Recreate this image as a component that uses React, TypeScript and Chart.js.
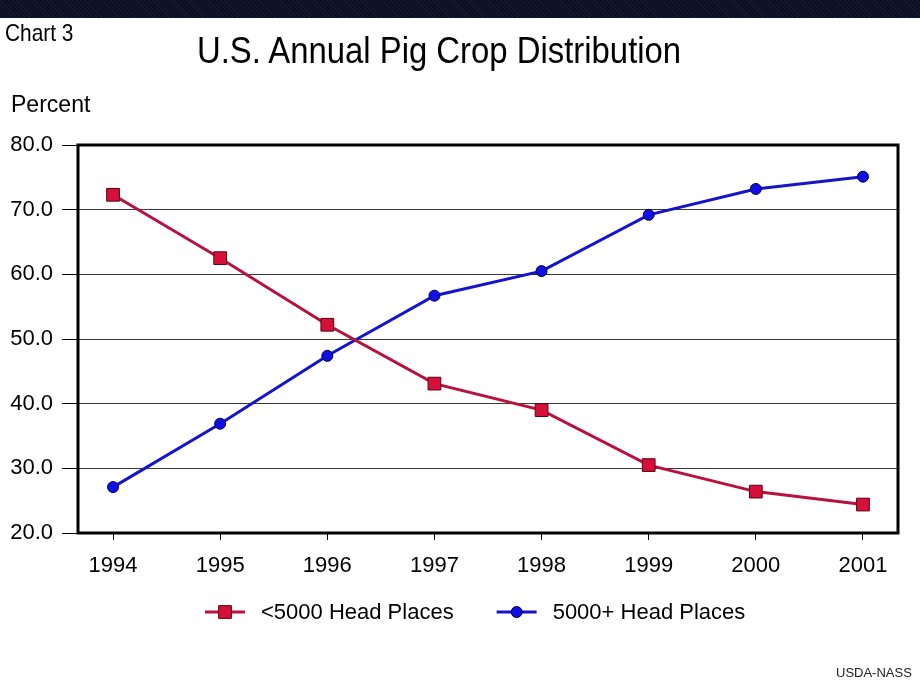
import React, { useEffect, useRef } from "react";
import { Chart, registerables } from "chart.js";

Chart.register(...registerables);

const years = [1994, 1995, 1996, 1997, 1998, 1999, 2000, 2001];
const smallPlaces = [72.3, 62.5, 52.2, 43.1, 39.0, 30.5, 26.4, 24.4];
const largePlaces = [27.1, 36.9, 47.4, 56.7, 60.5, 69.2, 73.2, 75.1];
const seriesLabels = ["<5000 Head Places", "5000+ Head Places"];
const yMin = 20;
const yMax = 80;
const yStep = 10;

const FONT = '"Liberation Sans", Arial, Helvetica, sans-serif';

const boxPlugin = {
  id: "plotBox",
  beforeDatasetsDraw(chart: any) {
    const { ctx, chartArea } = chart;
    ctx.save();
    ctx.strokeStyle = "#000";
    ctx.lineWidth = 3;
    ctx.strokeRect(
      chartArea.left,
      chartArea.top,
      chartArea.right - chartArea.left,
      chartArea.bottom - chartArea.top
    );
    ctx.restore();
  },
};

const legendPlugin = {
  id: "lineLegend",
  afterDraw(chart: any) {
    const { ctx, chartArea } = chart;
    const y = chartArea.bottom + 79;
    let x = chartArea.left + 127;
    ctx.save();
    ctx.font = `22px ${FONT}`;
    ctx.textBaseline = "middle";
    ctx.textAlign = "left";
    chart.data.datasets.forEach((ds: any) => {
      ctx.strokeStyle = ds.borderColor;
      ctx.lineWidth = 3;
      ctx.beginPath();
      ctx.moveTo(x, y);
      ctx.lineTo(x + 40, y);
      ctx.stroke();
      const cx = x + 20;
      ctx.fillStyle = ds.pointBackgroundColor;
      ctx.strokeStyle = ds.pointBorderColor;
      ctx.lineWidth = 1;
      ctx.beginPath();
      if (ds.pointStyle === "rect") {
        const s = Math.SQRT1_2 * ds.pointRadius;
        ctx.rect(cx - s, y - s, 2 * s, 2 * s);
      } else {
        ctx.arc(cx, y, ds.pointRadius, 0, Math.PI * 2);
      }
      ctx.fill();
      ctx.stroke();
      ctx.fillStyle = "#000";
      ctx.fillText(ds.label, x + 40 + 16, y + 1);
      const w = ctx.measureText(ds.label).width;
      x += 40 + 16 + w + 43;
    });
    ctx.restore();
  },
};

export default function App() {
  const canvasRef = useRef<HTMLCanvasElement | null>(null);

  useEffect(() => {
    if (!canvasRef.current) return;
    const chart = new Chart(canvasRef.current, {
      type: "line",
      data: {
        datasets: [
          {
            label: seriesLabels[0],
            data: years.map((yr, i) => ({ x: yr, y: smallPlaces[i] })),
            borderColor: "#b8123c",
            borderWidth: 3,
            pointStyle: "rect",
            pointRadius: 9,
            pointBackgroundColor: "#d6103a",
            pointBorderColor: "#5a0010",
            pointBorderWidth: 1,
            tension: 0,
          },
          {
            label: seriesLabels[1],
            data: years.map((yr, i) => ({ x: yr, y: largePlaces[i] })),
            borderColor: "#1414cc",
            borderWidth: 3,
            pointStyle: "circle",
            pointRadius: 5.5,
            pointBackgroundColor: "#1010e6",
            pointBorderColor: "#00004a",
            pointBorderWidth: 1,
            tension: 0,
          },
        ],
      },
      options: {
        responsive: false,
        animation: false,
        layout: { padding: { left: 0, right: 22, top: 145, bottom: 0 } },
        plugins: {
          legend: { display: false },
          title: { display: false },
          tooltip: { enabled: false },
        },
        scales: {
          x: {
            type: "linear",
            min: years[0] - 0.327,
            max: years[years.length - 1] + 0.327,
            afterFit: (s: any) => {
              s.height = 157;
            },
            afterBuildTicks: (s: any) => {
              s.ticks = years.map((v) => ({ value: v }));
            },
            grid: {
              drawOnChartArea: false,
              drawTicks: true,
              tickLength: 7,
              tickColor: "#000",
            },
            border: { display: false },
            ticks: {
              color: "#000",
              font: { family: FONT, size: 22 },
              padding: 13,
              maxRotation: 0,
              autoSkip: false,
              callback: (v: any) => String(v),
            },
          },
          y: {
            min: yMin,
            max: yMax,
            afterFit: (s: any) => {
              s.width = 78;
            },
            grid: {
              color: "#3a3a3a",
              lineWidth: 1,
              tickLength: 16,
              tickColor: "#000",
            },
            border: { display: false },
            ticks: {
              stepSize: yStep,
              color: "#000",
              font: { family: FONT, size: 22 },
              padding: 9,
              callback: (v: any) => Number(v).toFixed(1),
            },
          },
        },
      },
      plugins: [boxPlugin, legendPlugin],
    } as any);
    return () => chart.destroy();
  }, []);

  const textBase: React.CSSProperties = {
    position: "absolute",
    fontFamily: FONT,
    color: "#000",
    lineHeight: 1,
    whiteSpace: "nowrap",
    margin: 0,
  };

  return (
    <div
      style={{
        position: "absolute",
        left: 0,
        top: 0,
        width: 920,
        height: 690,
        background: "#fff",
        overflow: "hidden",
      }}
    >
      <div
        style={{
          position: "absolute",
          left: 0,
          top: 0,
          width: 920,
          height: 18,
          backgroundColor: "#0a0f22",
          backgroundImage:
            "repeating-linear-gradient(45deg, rgba(40,50,80,0.35) 0px, rgba(40,50,80,0.35) 1px, transparent 1px, transparent 3px)",
        }}
      />
      <canvas
        ref={canvasRef}
        width={920}
        height={690}
        style={{ position: "absolute", left: 0, top: 0 }}
      />
      <div
        style={{
          ...textBase,
          left: 5,
          top: 21,
          fontSize: 24,
          transform: "scaleX(0.87)",
          transformOrigin: "left top",
        }}
      >
        Chart 3
      </div>
      <div
        style={{
          ...textBase,
          left: 197,
          top: 33,
          fontSize: 36,
          transform: "scaleX(0.913)",
          transformOrigin: "left top",
        }}
      >
        U.S. Annual Pig Crop Distribution
      </div>
      <div
        style={{
          ...textBase,
          left: 11,
          top: 92,
          fontSize: 24,
          transform: "scaleX(0.96)",
          transformOrigin: "left top",
        }}
      >
        Percent
      </div>
      <div
        style={{
          ...textBase,
          left: 836,
          top: 666,
          fontSize: 13,
          color: "#222",
        }}
      >
        USDA-NASS
      </div>
    </div>
  );
}
